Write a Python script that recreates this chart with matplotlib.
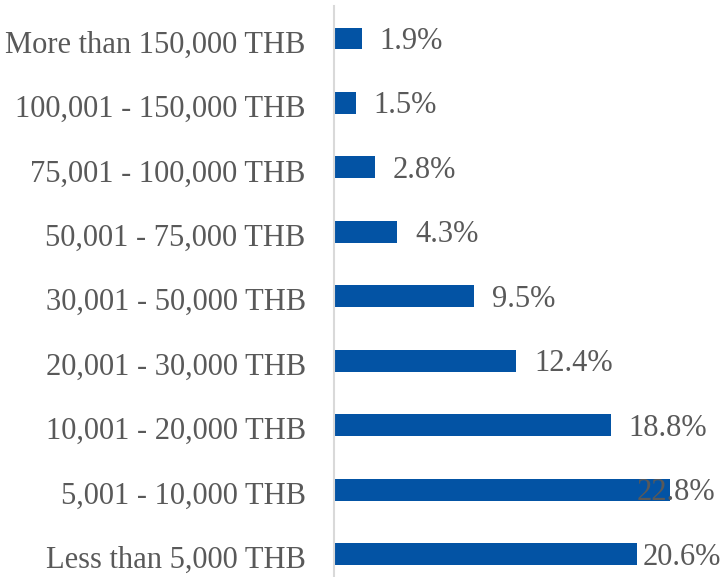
import matplotlib
matplotlib.use("Agg")
import matplotlib.pyplot as plt
from matplotlib.transforms import ScaledTranslation

categories = ["More than 150,000 THB", "100,001 - 150,000 THB", "75,001 - 100,000 THB",
              "50,001 - 75,000 THB", "30,001 - 50,000 THB", "20,001 - 30,000 THB",
              "10,001 - 20,000 THB", "5,001 - 10,000 THB", "Less than 5,000 THB"]
values = [1.9, 1.5, 2.8, 4.3, 9.5, 12.4, 18.8, 22.8, 20.6]

W, H = 723, 577
fig = plt.figure(figsize=(W / 100, H / 100), dpi=100)
ax_left = 333.5 / W
ax_top = 6.3
ax_h = 9 * 64.44
ax_bottom = (H - ax_top - ax_h) / H
ax = fig.add_axes([ax_left, ax_bottom, 1 - ax_left, ax_h / H])

px_per_unit = 14.74
xmax = (W - 333.5) / px_per_unit
color_bar = "#0353A4"
text_col = "#595959"
font = "Liberation Serif"
fs = 22

ypos = list(range(len(categories)))
ax.barh(ypos, values, height=0.34, color=color_bar, zorder=2)
ax.set_xlim(0, xmax)
ax.set_ylim(len(categories) - 0.5, -0.5)
ax.set_yticks(ypos)
ax.set_yticklabels(categories, fontsize=fs, color=text_col, family=font)
ax.tick_params(axis="y", length=0, pad=20)
down = ScaledTranslation(0, -3 / 100, fig.dpi_scale_trans)
for lab in ax.get_yticklabels():
    lab.set_transform(lab.get_transform() + down)
ax.set_xticks([])
for s in ["top", "right", "bottom"]:
    ax.spines[s].set_visible(False)
ax.spines["left"].set_color("#D9D9D9")
ax.spines["left"].set_linewidth(1.5)

offset = 18 / px_per_unit
fig.canvas.draw()
renderer = fig.canvas.get_renderer()
for y, v in zip(ypos, values):
    t = ax.text(v + offset, y, f"{v}%", fontsize=fs, color=text_col, family=font,
                va="center", ha="left", zorder=3, transform=ax.transData + down,
                clip_on=False)
    bb = t.get_window_extent(renderer=renderer)
    if bb.x1 > W + 25:
        t.set_x(xmax - 8 / px_per_unit)
        t.set_ha("right")
    elif bb.x1 > W - 1:
        t.set_x(xmax - 2 / px_per_unit)
        t.set_ha("right")

fig.savefig("out.png", dpi=100)
